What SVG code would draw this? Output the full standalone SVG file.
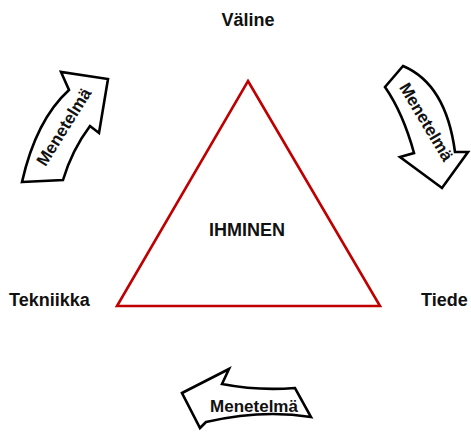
<svg xmlns="http://www.w3.org/2000/svg" width="471" height="432" viewBox="0 0 471 432">
  <style>
    .lbl { font-family: "Liberation Sans", Arial, sans-serif; font-weight: bold; font-size: 18px; fill: #111; }
    .mid { text-anchor: middle; }
    .on-arrow { font-size: 17px; }
    .arrow { fill: #fff; stroke: #000; stroke-width: 2.6; stroke-linejoin: miter; }
    .tri { fill: none; stroke: #C00000; stroke-width: 2.6; stroke-linejoin: miter; }
  </style>
  <rect width="471" height="432" fill="#fff"/>

  <!-- central triangle -->
  <g id="ihminen">
    <polygon class="tri" points="248,81 380,306 117,306"/>
    <text class="lbl mid" x="247" y="236">IHMINEN</text>
  </g>

  <!-- corner labels -->
  <g id="valine">
    <text class="lbl mid" x="248" y="26">Väline</text>
  </g>
  <g id="tekniikka">
    <text class="lbl" x="9" y="306">Tekniikka</text>
  </g>
  <g id="tiede">
    <text class="lbl" x="421" y="306">Tiede</text>
  </g>

  <!-- curved method arrows -->
  <g id="connectors">
    <g id="arrow-left">
      <path class="arrow" d="M22,182 L63,180 Q72,150 90,126 L99,133 L108,79 L61,72 L69,90 Q36,120 22,182 Z"/>
      <text class="lbl mid on-arrow" dominant-baseline="central" transform="translate(64,127) rotate(-58)">Menetelmä</text>
    </g>
    <g id="arrow-right">
      <path class="arrow" d="M385,87 L403,66 Q446,84 455,152 L468,152 L442,188 L400,157 L414,153 Q403,113 385,87 Z"/>
      <text class="lbl mid on-arrow" dominant-baseline="central" transform="translate(426,122) rotate(59)">Menetelmä</text>
    </g>
    <g id="arrow-bottom">
      <path class="arrow" d="M182,393 L229,369 L222,384 Q258,391 295,388 L311,417 Q262,409 206,422 L200,428 Z"/>
      <text class="lbl mid on-arrow" x="254" y="412">Menetelmä</text>
    </g>
  </g>
</svg>
